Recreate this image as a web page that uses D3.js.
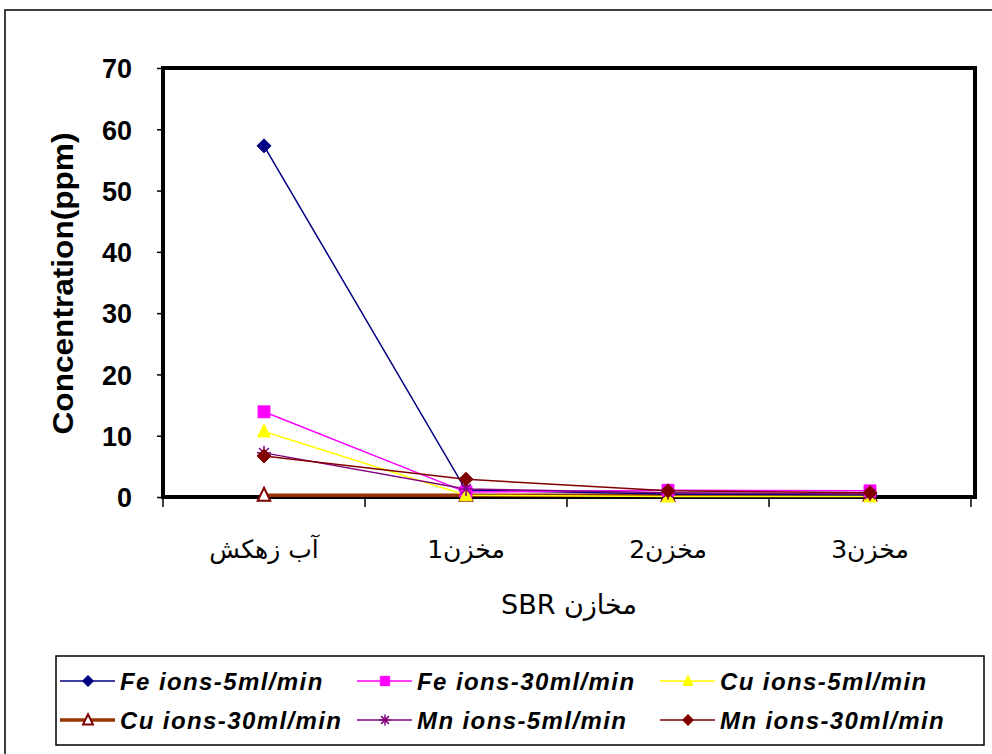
<!DOCTYPE html>
<html>
<head>
<meta charset="utf-8">
<script src="https://cdn.jsdelivr.net/npm/d3@7"></script>
<style>
  body { margin: 0; background: #fff; }
  svg { display: block; }
</style>
</head>
<body>
<svg id="chart" width="992" height="754"></svg>
<script>
const categories = ['آب زهکش', 'مخزن1', 'مخزن2', 'مخزن3'];
const seriesNames = ['Fe ions-5ml/min', 'Fe ions-30ml/min', 'Cu ions-5ml/min',
  'Cu ions-30ml/min', 'Mn ions-5ml/min', 'Mn ions-30ml/min'];
const feSlow = [57.3, 1.1, 0.5, 0.3];
const feFast = [13.9, 0.8, 1.1, 1.0];
const cuSlow = [10.7, 0.3, 0.1, 0.1];
const cuFast = [0.3, 0.3, 0.3, 0.3];
const mnSlow = [7.2, 1.3, 0.7, 0.5];
const mnFast = [6.7, 2.9, 1.0, 0.7];
const yTicks = [0, 10, 20, 30, 40, 50, 60, 70];

const series = [
  { name: seriesNames[0], values: feSlow, color: '#000080', width: 1.5, marker: 'diamond', fill: '#000080' },
  { name: seriesNames[1], values: feFast, color: '#ff00ff', width: 1.5, marker: 'square', fill: '#ff00ff' },
  { name: seriesNames[2], values: cuSlow, color: '#ffff00', width: 1.5, marker: 'triangle', fill: '#ffff00' },
  { name: seriesNames[3], values: cuFast, color: '#993300', width: 3.5, marker: 'triangle', fill: '#fff', stroke: '#800000' },
  { name: seriesNames[4], values: mnSlow, color: '#800080', width: 1.5, marker: 'star', fill: '#800080' },
  { name: seriesNames[5], values: mnFast, color: '#800000', width: 1.5, marker: 'diamond', fill: '#800000' }
];

const svg = d3.select('#chart');
const margin = { top: 68, left: 163, right: 975, bottom: 497 };
const font = 'Liberation Sans, Arial, sans-serif';
const arabicFont = 'DejaVu Sans, Liberation Sans, sans-serif';

// outer frame
svg.append('rect')
  .attr('x', 5).attr('y', 10)
  .attr('width', 1000).attr('height', 800)
  .attr('fill', 'none').attr('stroke', '#000').attr('stroke-width', 1.5);

const x = d3.scaleBand().domain(categories).range([margin.left, 971]);
const y = d3.scaleLinear().domain([0, 70]).range([margin.bottom, margin.top]);

// y axis
const yAxis = svg.append('g')
  .attr('transform', `translate(${margin.left},0)`)
  .call(d3.axisLeft(y).tickValues(yTicks).tickSize(6).tickPadding(25));
yAxis.select('.domain').remove();
yAxis.selectAll('line').attr('stroke', '#000').attr('stroke-width', 1.5);
yAxis.selectAll('text')
  .attr('font-family', font)
  .attr('font-size', 27).attr('font-weight', 'bold').attr('fill', '#000')
  .attr('dy', '0.36em');

// x axis
const xTicks = x.domain().map(d => x(d)).concat([x.range()[1]]);
const xAxisG = svg.append('g');
xAxisG.selectAll('line.tick').data(xTicks).join('line')
  .attr('x1', d => d).attr('x2', d => d)
  .attr('y1', margin.bottom).attr('y2', margin.bottom + 10)
  .attr('stroke', '#000').attr('stroke-width', 1.5);
xAxisG.selectAll('text').data(categories).join('text')
  .attr('x', d => x(d) + x.bandwidth() / 2)
  .attr('y', 558)
  .attr('text-anchor', 'middle')
  .attr('font-family', arabicFont)
  .attr('font-size', 25)
  .attr('direction', 'rtl')
  .text(d => d);

// plot frame
svg.append('rect')
  .attr('x', margin.left).attr('y', margin.top)
  .attr('width', margin.right - margin.left).attr('height', margin.bottom - margin.top)
  .attr('fill', 'none').attr('stroke', '#000').attr('stroke-width', 4);

// axis titles
svg.append('text')
  .attr('transform', `translate(73,${(margin.top + margin.bottom) / 2 + 1}) rotate(-90)`)
  .attr('text-anchor', 'middle')
  .attr('font-family', font)
  .attr('font-size', 29).attr('font-weight', 'bold')
  .attr('textLength', 302).attr('lengthAdjust', 'spacingAndGlyphs')
  .text('Concentration(ppm)');

svg.append('text')
  .attr('x', 569).attr('y', 614)
  .attr('text-anchor', 'middle')
  .attr('font-family', arabicFont)
  .attr('font-size', 27)
  .attr('direction', 'rtl')
  .text('مخازن SBR');

function drawMarker(g, s, cx, cy, r) {
  if (s.marker === 'star') {
    [0, 45, 90, 135].forEach(a => {
      const rad = a * Math.PI / 180;
      g.append('line')
        .attr('x1', cx - r * Math.cos(rad)).attr('y1', cy - r * Math.sin(rad))
        .attr('x2', cx + r * Math.cos(rad)).attr('y2', cy + r * Math.sin(rad))
        .attr('stroke', s.color).attr('stroke-width', 1.5);
    });
    return;
  }
  let pts;
  if (s.marker === 'diamond') {
    pts = [[0, -r], [r, 0], [0, r], [-r, 0]];
  } else if (s.marker === 'square') {
    const h = r * 0.85;
    pts = [[-h, -h], [h, -h], [h, h], [-h, h]];
  } else {
    pts = [[0, -r * 1.05], [r * 0.9, r * 0.8], [-r * 0.9, r * 0.8]];
  }
  g.append('path')
    .attr('transform', `translate(${cx},${cy})`)
    .attr('d', d3.line()(pts) + 'Z')
    .attr('fill', s.fill)
    .attr('stroke', s.stroke || s.fill)
    .attr('stroke-width', s.stroke ? 2 : 1);
}

// series
const line = d3.line()
  .x((d, i) => x(categories[i]) + x.bandwidth() / 2)
  .y(d => y(d));

const plot = svg.append('g');
const order = [3, 0, 1, 2, 4, 5];
order.forEach(k => {
  const s = series[k];
  plot.append('path')
    .datum(s.values)
    .attr('fill', 'none')
    .attr('stroke', s.color)
    .attr('stroke-width', s.width)
    .attr('d', line);
});
order.forEach(k => {
  const s = series[k];
  s.values.forEach((v, i) => {
    drawMarker(plot, s, x(categories[i]) + x.bandwidth() / 2, y(v), 7);
  });
});

// legend
svg.append('rect')
  .attr('x', 56).attr('y', 656)
  .attr('width', 928).attr('height', 89)
  .attr('fill', '#fff').attr('stroke', '#000').attr('stroke-width', 1.5);

const legendCols = [60, 357, 660];
const legendRows = [681, 720];
series.forEach((s, i) => {
  const lx = legendCols[i % 3];
  const ly = legendRows[Math.floor(i / 3)];
  const g = svg.append('g');
  g.append('line')
    .attr('x1', lx).attr('x2', lx + 55)
    .attr('y1', ly).attr('y2', ly)
    .attr('stroke', s.color).attr('stroke-width', s.width);
  drawMarker(g, s, lx + 28, ly, 5.5);
  g.append('text')
    .attr('x', lx + 60).attr('y', ly + 9)
    .attr('font-family', font)
    .attr('font-size', 24).attr('font-style', 'italic').attr('font-weight', 'bold')
    .attr('letter-spacing', 1.4)
    .text(s.name);
});
</script>
</body>
</html>
